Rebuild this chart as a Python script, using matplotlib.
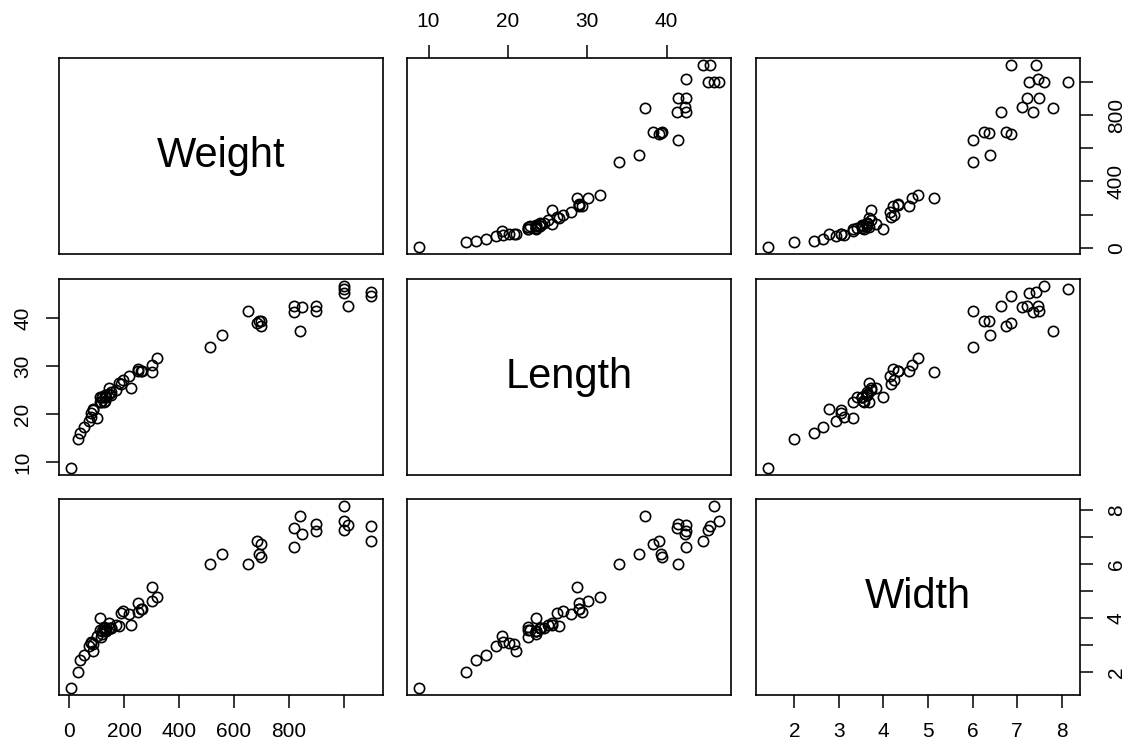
#!/usr/bin/env python3
"""Scatterplot matrix of perch measurements, drawn like R's pairs()."""

import matplotlib
matplotlib.use('Agg')
import matplotlib.pyplot as plt

weight = [5.9, 32, 40, 51.5, 70, 100, 78, 80, 85, 85, 110, 115, 125, 130,
          120, 120, 130, 135, 110, 130, 150, 145, 150, 170, 225, 145, 188,
          180, 197, 218, 300, 260, 265, 250, 250, 300, 320, 514, 556, 840,
          685, 700, 700, 690, 900, 650, 820, 850, 900, 1015, 820, 1100,
          1000, 1100, 1000, 1000]
length = [8.8, 14.7, 16.0, 17.2, 18.5, 19.2, 19.4, 20.2, 20.8, 21.0, 22.5,
          22.5, 22.5, 22.8, 23.5, 23.5, 23.5, 23.5, 23.5, 24.0, 24.0, 24.2,
          24.5, 25.0, 25.5, 25.5, 26.2, 26.5, 27.0, 28.0, 28.7, 28.9, 28.9,
          28.9, 29.4, 30.1, 31.6, 34.0, 36.5, 37.3, 39.0, 38.3, 39.4, 39.3,
          41.4, 41.4, 41.3, 42.3, 42.5, 42.4, 42.5, 44.6, 45.2, 45.5, 46.0,
          46.6]
width = [1.408, 1.999, 2.432, 2.632, 2.942, 3.322, 3.123, 3.050, 3.037,
         2.772, 3.555, 3.308, 3.668, 3.534, 3.408, 3.525, 3.525, 3.525,
         3.995, 3.624, 3.624, 3.630, 3.626, 3.725, 3.723, 3.825, 4.166,
         3.684, 4.239, 4.144, 5.137, 4.335, 4.335, 4.566, 4.204, 4.635,
         4.772, 6.018, 6.388, 7.796, 6.864, 6.741, 6.265, 6.367, 7.493,
         6.003, 7.351, 7.106, 7.225, 7.462, 6.630, 6.868, 7.277, 7.417,
         8.142, 7.596]

names = ['Weight', 'Length', 'Width']
variables = [weight, length, width]

weight_ticks = [0, 200, 400, 600, 800, 1000]
length_ticks = [10, 20, 30, 40]
width_ticks = [2, 3, 4, 5, 6, 7, 8]


def r_limits(vals):
    """R pads the data range by 4% on each side."""
    lo, hi = min(vals), max(vals)
    pad = (hi - lo) * 0.04
    return lo - pad, hi + pad


plt.rcParams.update({
    'font.family': ['Liberation Sans', 'DejaVu Sans'],
    'font.size': 15,
    'axes.linewidth': 1.2,
})

fig = plt.figure(figsize=(11.26, 7.43), dpi=100)

lefts = [59, 407, 756]
tops = [58, 279, 499]
pw, ph = 324, 196
W, H = 1126, 743

tick_kw = dict(length=9.4, width=1.1, pad=10, labelsize=15)

axes = {}
for r in range(3):
    for c in range(3):
        ax = fig.add_axes([lefts[c] / W, 1 - (tops[r] + ph) / H, pw / W, ph / H])
        ax.set_xlim(r_limits(variables[c]))
        ax.set_ylim(r_limits(variables[r]))
        ax.set_xticks([])
        ax.set_yticks([])
        if r == c:
            ax.text(0.5, 0.5, names[r], transform=ax.transAxes,
                    ha='center', va='center', fontsize=30)
        else:
            ax.plot(variables[c], variables[r], 'o', mfc='none', mec='black',
                    mew=1.2, ms=7.4, ls='none')
        axes[(r, c)] = ax

# outer axes alternate sides, as pairs() does
ax = axes[(2, 0)]
ax.set_xticks(weight_ticks)
ax.set_xticklabels(['0', '200', '400', '600', '800', ''])
ax.tick_params(axis='x', **tick_kw)

ax = axes[(0, 1)]
ax.xaxis.set_ticks_position('top')
ax.set_xticks(length_ticks)
ax.set_xticklabels([str(t) for t in length_ticks])
ax.tick_params(axis='x', **tick_kw)

ax = axes[(2, 2)]
ax.set_xticks(width_ticks)
ax.set_xticklabels([str(t) for t in width_ticks])
ax.tick_params(axis='x', **tick_kw)

ax = axes[(0, 2)]
ax.yaxis.set_ticks_position('right')
ax.set_yticks(weight_ticks)
ax.set_yticklabels(['0', '', '400', '', '800', ''], rotation=90, va='center')
ax.tick_params(axis='y', **tick_kw)

ax = axes[(1, 0)]
ax.set_yticks(length_ticks)
ax.set_yticklabels([str(t) for t in length_ticks], rotation=90, va='center')
ax.tick_params(axis='y', **tick_kw)

ax = axes[(2, 2)]
ax.yaxis.set_ticks_position('right')
ax.set_yticks(width_ticks)
ax.set_yticklabels(['2', '', '4', '', '6', '', '8'], rotation=90, va='center')
ax.tick_params(axis='y', **tick_kw)

fig.savefig('out.png', dpi=100)
